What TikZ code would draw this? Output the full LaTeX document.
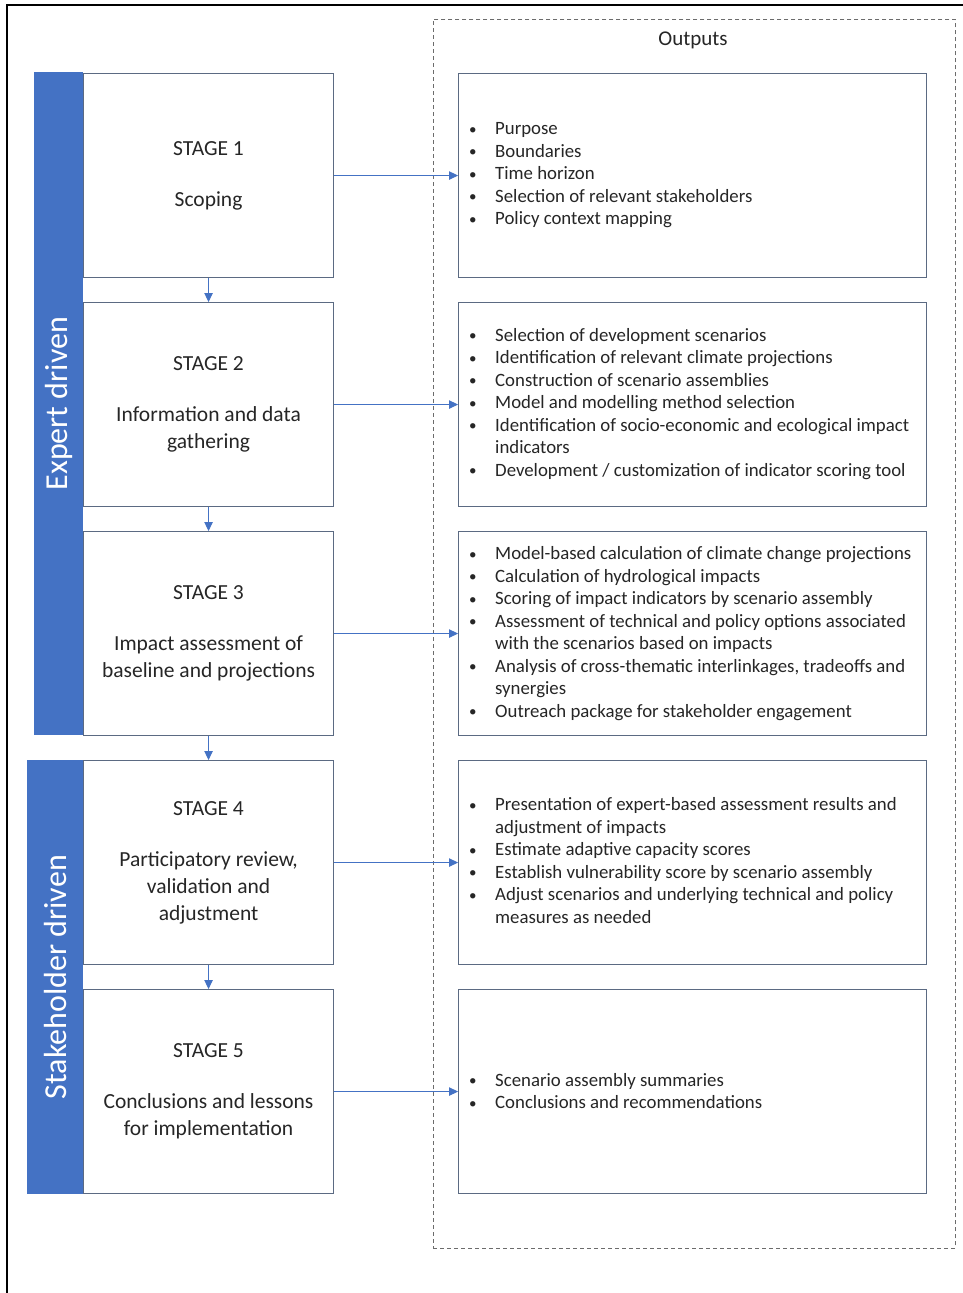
\documentclass[tikz,border=0pt]{standalone}
\usepackage{fontspec}
\setmainfont{Carlito}
\usetikzlibrary{arrows.meta}
\definecolor{obl}{HTML}{4472C4}
\definecolor{edgec}{HTML}{5B6A82}
\definecolor{txt}{HTML}{262626}
\newcommand\blist[1]{\begin{tabular}{@{}p{26pt}@{}l@{}}#1\end{tabular}}
\newcommand\bu{\raisebox{0.5pt}{\scalebox{0.8}{\textbullet}}}
\begin{document}
\begin{tikzpicture}[x=1pt,y=-1pt,
 stagebox/.style={draw=edgec, line width=1.1pt, fill=white, minimum width=250pt, minimum height=204pt, anchor=north west, inner sep=0pt, align=center, text=txt, font=\fontsize{21.5}{27}\selectfont},
 outbox/.style={draw=edgec, line width=1.1pt, fill=white, minimum width=468pt, minimum height=204pt, anchor=north west, inner sep=0pt},
 outtext/.style={anchor=west, inner sep=0pt, text=txt, font=\fontsize{18.8}{22.5}\selectfont},
 flow/.style={draw=obl, line width=1pt, -{Triangle[length=9pt,width=8.5pt]}},
 barlabel/.style={rotate=90, text=white, font=\fontsize{32}{38}\selectfont, inner sep=0pt},
 bar/.style={fill=obl, anchor=north west, inner sep=0pt}
]
\useasboundingbox (0,0) rectangle (963,1293);
\fill[white] (0,0) rectangle (963,1293);
\draw[line width=2pt] (7,1300) -- (7,5) -- (970,5);

\node[draw=gray!85!black, dashed, line width=0.8pt, dash pattern=on 4pt off 3pt, minimum width=522pt, minimum height=1229pt, anchor=north west, inner sep=0pt] (outframe) at (433,19) {};
\node[text=txt, font=\fontsize{21}{25}\selectfont] (outlabel) at (693,40) {Outputs};

\node[bar, minimum width=49pt, minimum height=663pt] (bar1) at (34,72) {};
\node[bar, minimum width=56pt, minimum height=434pt] (bar2) at (27,760) {};
\node[barlabel] (lab1) at (bar1.center) {Expert driven};
\node[barlabel] (lab2) at (bar2.center) {Stakeholder driven};

\node[stagebox] (s1) at (83,73) {STAGE 1\\[24pt]Scoping};
\node[stagebox] (s2) at (83,302) {STAGE 2\\[24pt]Information and data\\gathering};
\node[stagebox] (s3) at (83,531) {STAGE 3\\[24pt]Impact assessment of\\baseline and projections};
\node[stagebox] (s4) at (83,760) {STAGE 4\\[24pt]Participatory review,\\validation and\\adjustment};
\node[stagebox] (s5) at (83,989) {STAGE 5\\[24pt]Conclusions and lessons\\for implementation};

\node[outbox] (o1) at (458,73) {};
\node[outbox] (o2) at (458,302) {};
\node[outbox] (o3) at (458,531) {};
\node[outbox] (o4) at (458,760) {};
\node[outbox] (o5) at (458,989) {};

\node[outtext] (t1) at (469,175) {\blist{\bu & Purpose\\ \bu & Boundaries\\ \bu & Time horizon\\ \bu & Selection of relevant stakeholders\\ \bu & Policy context mapping}};
\node[outtext] (t2) at (469,404) {\blist{\bu & Selection of development scenarios\\ \bu & Identification of relevant climate projections\\ \bu & Construction of scenario assemblies\\ \bu & Model and modelling method selection\\ \bu & Identification of socio-economic and ecological impact\\ & indicators\\ \bu & Development / customization of indicator scoring tool}};
\node[outtext] (t3) at (469,634) {\blist{\bu & Model-based calculation of climate change projections\\ \bu & Calculation of hydrological impacts\\ \bu & Scoring of impact indicators by scenario assembly\\ \bu & Assessment of technical and policy options associated\\ & with the scenarios based on impacts\\ \bu & Analysis of cross-thematic interlinkages, tradeoffs and\\ & synergies\\ \bu & Outreach package for stakeholder engagement}};
\node[outtext] (t4) at (469,862.5) {\blist{\bu & Presentation of expert-based assessment results and\\ & adjustment of impacts\\ \bu & Estimate adaptive capacity scores\\ \bu & Establish vulnerability score by scenario assembly\\ \bu & Adjust scenarios and underlying technical and policy\\ & measures as needed}};
\node[outtext] (t5) at (469,1093) {\blist{\bu & Scenario assembly summaries\\ \bu & Conclusions and recommendations}};

\foreach \i in {1,...,5} {\draw[flow] (s\i.east) -- (o\i.west);}
\draw[flow] (s1.south) -- (s2.north);
\draw[flow] (s2.south) -- (s3.north);
\draw[flow] (s3.south) -- (s4.north);
\draw[flow] (s4.south) -- (s5.north);
\end{tikzpicture}
\end{document}
